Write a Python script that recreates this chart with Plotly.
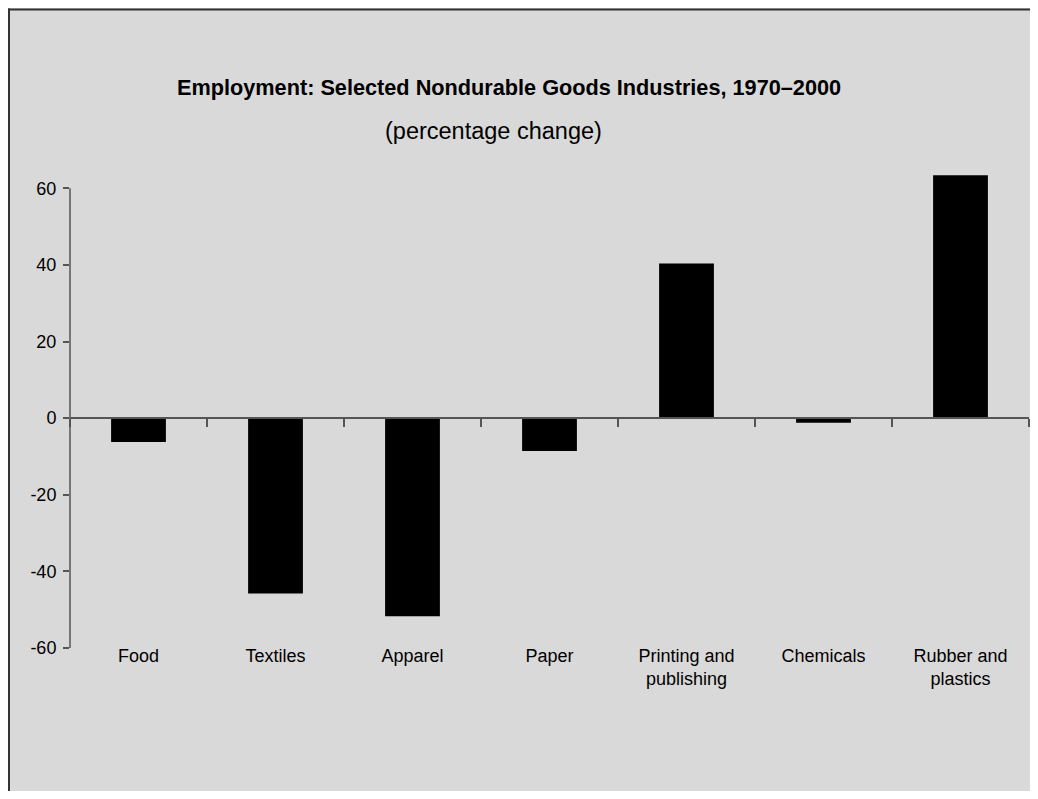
import plotly.graph_objects as go

industries = ["Food", "Textiles", "Apparel", "Paper", "Printing and<br>publishing",
              "Chemicals", "Rubber and<br>plastics"]
pct_change = [-6.2, -45.8, -51.7, -8.6, 40.4, -1.2, 63.4]
y_ticks = [-60, -40, -20, 0, 20, 40, 60]
y_tick_text = ["-60", "-40", "-20", "0", "20", "40", "60"]

# page body adds 8px, so figure is 8px smaller than the window
W, H = 1030, 783
Y_MIN, Y_MAX = -60, 64          # a bit of headroom so the 63.4 bar isn't cut
px_per_unit = 460 / 120
L, R, B = 62, 9, H - 640
T = 180 - (Y_MAX - 60) * px_per_unit
pw, ph = W - L - R, H - T - B

def px_x(p):
    return (p - L) / pw

def px_y(p):
    return (H - B - p) / ph

FONT = "Liberation Sans, Arial, sans-serif"
AX = "#555"

fig = go.Figure()
fig.add_trace(go.Bar(x=industries, y=pct_change, marker_color="black",
                     marker_line_width=0, width=0.4, showlegend=False))

fig.update_layout(
    width=W, height=H,
    margin=dict(l=L, r=R, t=T, b=B),
    paper_bgcolor="#d9d9d9",
    plot_bgcolor="#d9d9d9",
    font=dict(family=FONT, size=18, color="black"),
    # category axis sits on the zero line, labels pushed down to the bottom
    xaxis=dict(anchor="free", position=(0 - Y_MIN) / (Y_MAX - Y_MIN),
               showline=True, linecolor=AX, linewidth=1.5,
               ticks="outside", ticklen=8, tickcolor=AX, tickwidth=1.5,
               tickson="boundaries", showgrid=False, zeroline=False,
               ticklabelstandoff=221, tickfont=dict(size=18)),
    yaxis=dict(range=[Y_MIN, Y_MAX], tickvals=y_ticks, ticktext=y_tick_text,
               showgrid=False, zeroline=False, showline=False,
               ticks="outside", ticklen=6, tickcolor=AX, tickwidth=1.5,
               ticklabelstandoff=3, tickfont=dict(size=18)),
)

# y axis line only spans the labelled ticks
fig.add_shape(type="line", xref="paper", yref="y", x0=0, x1=0,
              y0=y_ticks[0], y1=y_ticks[-1], line=dict(color=AX, width=1.5))

# frame: only the left and top edges are visible in the reference
frame = dict(color="#333", width=2)
fig.add_shape(type="line", xref="paper", yref="paper", x0=px_x(1), x1=px_x(1),
              y0=px_y(H + 5), y1=px_y(0), line=frame)
fig.add_shape(type="line", xref="paper", yref="paper", x0=px_x(0), x1=px_x(W + 5),
              y0=px_y(1), y1=px_y(1), line=frame)

fig.add_annotation(text="<b>Employment: Selected Nondurable Goods Industries, 1970\u20132000</b>",
                   xref="paper", yref="paper", x=px_x(501), y=px_y(79),
                   xanchor="center", yanchor="middle", showarrow=False,
                   font=dict(size=21.7))
fig.add_annotation(text="(percentage change)",
                   xref="paper", yref="paper", x=px_x(485), y=px_y(123),
                   xanchor="center", yanchor="middle", showarrow=False,
                   font=dict(size=23.5))

fig.write_html("out.html")
